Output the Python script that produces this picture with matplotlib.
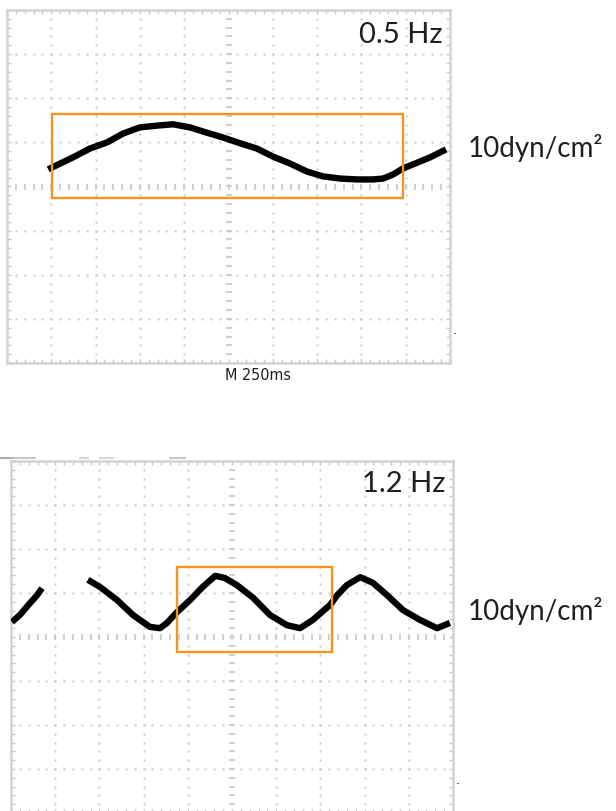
import numpy as np
import matplotlib
matplotlib.use("Agg")
import matplotlib.pyplot as plt
from matplotlib.patches import Rectangle
from matplotlib.lines import Line2D

# ---- data (oscilloscope divisions: x 0..10, y -4..4) ----
p1_x = [0.93, 1.20, 1.49, 1.87, 2.26, 2.62, 3.00, 3.39, 3.75, 4.13, 4.51, 4.88,
        5.26, 5.64, 6.00, 6.39, 6.77, 7.13, 7.52, 7.90, 8.26, 8.49, 8.71, 8.94,
        9.26, 9.55, 9.91]
p1_y = [0.39, 0.52, 0.66, 0.86, 1.00, 1.20, 1.34, 1.38, 1.41, 1.34, 1.22, 1.11,
        0.98, 0.86, 0.68, 0.52, 0.34, 0.23, 0.18, 0.16, 0.16, 0.18, 0.27, 0.41,
        0.54, 0.66, 0.84]

p2a_x = [0.02, 0.20, 0.43, 0.59, 0.70]
p2a_y = [0.34, 0.50, 0.77, 0.95, 1.11]
p2b_x = [1.74, 2.01, 2.40, 2.76, 3.14, 3.37, 3.53, 3.76, 4.05, 4.34, 4.62, 4.84,
         5.11, 5.48, 5.86, 6.24, 6.54, 6.83, 7.22, 7.38, 7.60, 7.90, 8.19, 8.51,
         8.87, 9.25, 9.64, 9.93]
p2b_y = [1.30, 1.14, 0.84, 0.50, 0.23, 0.20, 0.32, 0.57, 0.84, 1.14, 1.39, 1.34,
         1.18, 0.89, 0.50, 0.27, 0.20, 0.39, 0.73, 0.95, 1.18, 1.36, 1.23, 0.95,
         0.61, 0.39, 0.20, 0.32]

box1 = (1.01, -0.27, 8.93, 1.65)   # x0, y0, x1, y1
box2 = (3.75, -0.33, 7.27, 1.60)

freq_labels = ["0.5 Hz", "1.2 Hz"]
scale_label = "10dyn/cm\u00b2"
time_label = "M 250ms"

GRAY = "#c8c8c8"
ORANGE = "#f7941d"
TXT = "#231f20"

W, H = 616, 811
fig = plt.figure(figsize=(W / 100, H / 100), dpi=100)


def scope_axes(rect):
    ax = fig.add_axes(rect)
    ax.set_xlim(0, 10)
    ax.set_ylim(-4, 4)
    for s in ax.spines.values():
        s.set_color("#d2d2d2")
        s.set_linewidth(1.8)
    minor = np.arange(0, 10.001, 0.2)
    minory = np.arange(-4, 4.001, 0.2)
    ax.set_xticks(minor)
    ax.set_yticks(minory)
    ax.tick_params(direction="in", length=3, width=1, color=GRAY,
                   top=True, right=True, labelbottom=False, labelleft=False)
    # dotted grid
    for k in range(1, 10):
        if k == 5:
            continue
        ax.plot([k] * len(minory), minory, ls="none", marker="s", ms=1.4,
                mec="none", mfc=GRAY)
    for k in range(-3, 4):
        if k == 0:
            continue
        ax.plot(minor, [k] * len(minor), ls="none", marker="s", ms=1.4,
                mec="none", mfc=GRAY)
    # center cross with small ticks
    ax.plot([5] * len(minory), minory, ls="none", marker="_", ms=4.5,
            mew=1.2, color=GRAY)
    ax.plot(minor, [0] * len(minor), ls="none", marker="|", ms=4.5,
            mew=1.2, color=GRAY)
    return ax


ax1 = scope_axes([7 / W, 1 - 363 / H, 443 / W, 353 / H])
ax2 = scope_axes([11 / W, 1 - 813 / H, 442 / W, 352 / H])

line_kw = dict(color="black", lw=4.6, solid_capstyle="butt",
               solid_joinstyle="round", zorder=5)
ax1.plot(p1_x, p1_y, **line_kw)
ax2.plot(p2a_x, p2a_y, **line_kw)
ax2.plot(p2b_x, p2b_y, **line_kw)

for ax, b in ((ax1, box1), (ax2, box2)):
    ax.add_patch(Rectangle((b[0], b[1]), b[2] - b[0], b[3] - b[1],
                           fill=False, ec=ORANGE, lw=1.7, zorder=6))


def ftext(x, y, s, **kw):
    fig.text(x / W, 1 - y / H, s, **kw)


ftext(443, 43, freq_labels[0], ha="right", va="baseline", fontsize=21,
      family="Lato", color=TXT)
ftext(445, 492, freq_labels[1], ha="right", va="baseline", fontsize=21,
      family="Lato", color=TXT)
ftext(468, 157, scale_label, ha="left", va="baseline", fontsize=20,
      family="Lato", color=TXT)
ftext(468, 620, scale_label, ha="left", va="baseline", fontsize=20,
      family="Lato", color=TXT)
ftext(225, 380, time_label, ha="left", va="baseline", fontsize=11.5,
      family="DejaVu Sans", stretch="condensed", color="#222222")
ftext(455, 334, ".", ha="center", va="baseline", fontsize=9, color="black")
ftext(458, 784, ".", ha="center", va="baseline", fontsize=9, color="black")

# faint screen artifacts above the lower panel
for x0, x1, c in ((0, 12, "#999999"), (13, 35, "#bbbbbb"), (80, 88, "#cccccc"),
                  (100, 113, "#cccccc"), (170, 185, "#bbbbbb")):
    fig.add_artist(Line2D([x0 / W, x1 / W], [1 - 458 / H, 1 - 458 / H],
                          color=c, lw=1.2))

fig.savefig("out.png", dpi=100)
